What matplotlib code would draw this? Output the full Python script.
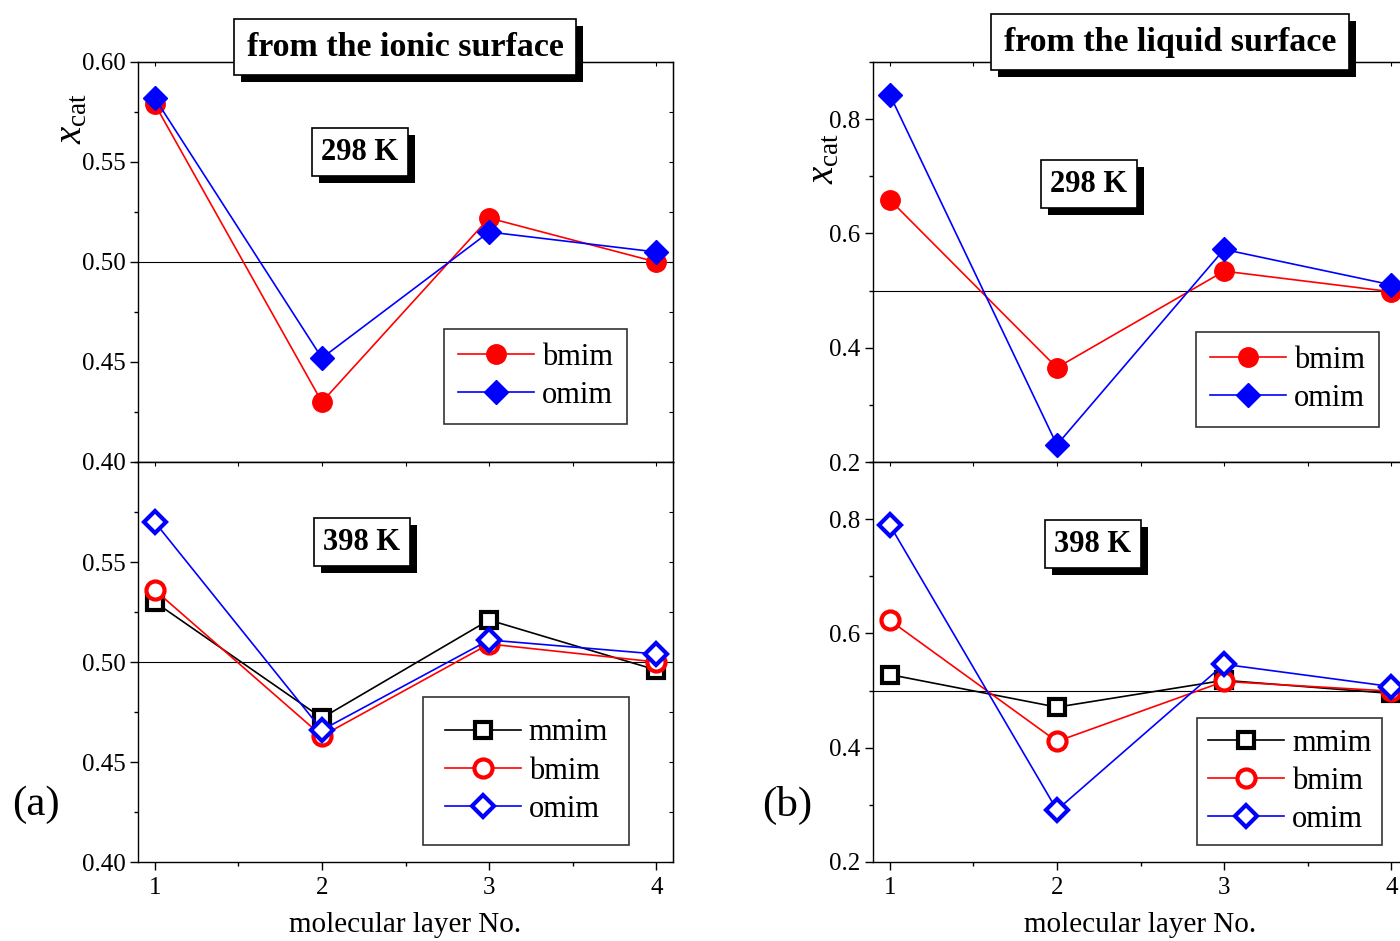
import matplotlib
matplotlib.use("Agg")
import matplotlib.pyplot as plt
from matplotlib import patheffects
from matplotlib.ticker import MultipleLocator

plt.rcParams['font.family'] = ['Liberation Serif', 'DejaVu Serif']
plt.rcParams['mathtext.fontset'] = 'custom'
plt.rcParams['mathtext.rm'] = 'Liberation Serif'
plt.rcParams['mathtext.it'] = 'Liberation Serif:italic'

layers = [1, 2, 3, 4]

# (a) from the ionic surface
a298_bmim = [0.579, 0.430, 0.522, 0.500]
a298_omim = [0.582, 0.452, 0.515, 0.505]
a398_mmim = [0.530, 0.472, 0.521, 0.496]
a398_bmim = [0.536, 0.463, 0.509, 0.500]
a398_omim = [0.570, 0.466, 0.511, 0.504]

# (b) from the liquid surface
b298_bmim = [0.659, 0.365, 0.534, 0.498]
b298_omim = [0.843, 0.230, 0.572, 0.510]
b398_mmim = [0.528, 0.471, 0.518, 0.495]
b398_bmim = [0.623, 0.411, 0.516, 0.499]
b398_omim = [0.790, 0.291, 0.546, 0.507]

fig = plt.figure(figsize=(14, 9.41), dpi=100)

def fx(px):
    return px / 1400.0

def fy(py):
    return 1 - py / 941.0

def style_axes(ax, ylim, ymajor, yminor, xlabels):
    ax.set_xlim(0.9, 4.1)
    ax.set_ylim(*ylim)
    ax.xaxis.set_major_locator(MultipleLocator(1))
    ax.xaxis.set_minor_locator(MultipleLocator(0.5))
    ax.yaxis.set_major_locator(MultipleLocator(ymajor))
    ax.yaxis.set_minor_locator(MultipleLocator(yminor))
    ax.tick_params(which='major', direction='out', length=6, width=1, labelsize=18,
                   top=False, right=False, pad=3)
    ax.tick_params(which='minor', direction='out', length=3, width=1,
                   top=False, right=False)
    ax.tick_params(axis='x', labelbottom=xlabels, pad=5)
    for s in ax.spines.values():
        s.set_linewidth(1.0)
    ax.axhline(0.5, color='k', lw=0.8, zorder=1)
    sec = ax.secondary_xaxis('top')
    sec.tick_params(which='both', direction='in', length=3, labeltop=False)
    sec.xaxis.set_minor_locator(MultipleLocator(0.5))
    sec2 = ax.secondary_yaxis('right')
    sec2.tick_params(which='both', direction='in', length=3, labelright=False)
    sec2.yaxis.set_minor_locator(MultipleLocator(yminor))

def boxed(x, y, s, size, pad):
    t = fig.text(fx(x), fy(y), s, fontsize=size, fontweight='bold',
                 ha='center', va='center', zorder=10,
                 bbox=dict(boxstyle='square,pad=%s' % pad, fc='white', ec='k', lw=1.2))
    t.get_bbox_patch().set_path_effects([
        patheffects.withSimplePatchShadow(offset=(5, -5), shadow_rgbFace='k', alpha=1.0)])
    return t

def add_legend(ax, anchor, bpad):
    leg = ax.legend(loc='upper left', bbox_to_anchor=anchor, borderaxespad=0,
                    fontsize=22, frameon=True, fancybox=False, edgecolor='k',
                    handlelength=2.5, handletextpad=0.25, borderpad=bpad,
                    labelspacing=0.3)
    leg.get_frame().set_linewidth(1.2)

def top_panel(left, bmim, omim, ylim, ymajor, yminor, anchor, ylab_pos):
    ax = fig.add_axes([fx(left), fy(462), fx(535), 400 / 941.0])
    style_axes(ax, ylim, ymajor, yminor, False)
    ax.plot(layers, bmim, '-o', color='red', lw=1.2, ms=14, label='bmim', zorder=3)
    ax.plot(layers, omim, '-D', color='blue', lw=1.2, ms=12, label='omim', zorder=4)
    ax.set_ylabel(r'$x_{\rm cat}$', fontsize=28)
    ax.yaxis.set_label_coords(*ylab_pos)
    add_legend(ax, anchor, 0.45)
    return ax

def bottom_panel(left, mmim, bmim, omim, ylim, ymajor, yminor, anchor, bpad):
    ax = fig.add_axes([fx(left), fy(862), fx(535), 400 / 941.0])
    style_axes(ax, ylim, ymajor, yminor, True)
    ax.plot(layers, mmim, '-s', color='black', mfc='white', mew=3, lw=1.2, ms=11,
            label='mmim', zorder=3)
    ax.plot(layers, bmim, '-o', color='red', mfc='white', mew=3, lw=1.2, ms=13,
            label='bmim', zorder=4)
    ax.plot(layers, omim, '-D', color='blue', mfc='white', mew=3, lw=1.2, ms=11,
            label='omim', zorder=5)
    ax.set_xlabel('molecular layer No.', fontsize=21, labelpad=9)
    add_legend(ax, anchor, bpad)
    return ax

# panel (a)
axa1 = top_panel(138, a298_bmim, a298_omim, (0.40, 0.60), 0.05, 0.025,
                 (0.572, 0.3325), (-0.09, 0.86))
axa2 = bottom_panel(138, a398_mmim, a398_bmim, a398_omim, (0.40, 0.60), 0.05, 0.025,
                    (0.533, 0.4125), 0.7)
axa2.set_yticks([0.40, 0.45, 0.50, 0.55])

# panel (b)
axb1 = top_panel(873, b298_bmim, b298_omim, (0.2, 0.9), 0.2, 0.1,
                 (0.604, 0.325), (-0.058, 0.76))
axb2 = bottom_panel(873, b398_mmim, b398_bmim, b398_omim, (0.2, 0.9), 0.2, 0.1,
                    (0.606, 0.36), 0.35)
axb2.set_yticks([0.2, 0.4, 0.6, 0.8])

boxed(405, 47, 'from the ionic surface', 24.5, 0.38)
boxed(360, 152, '298 K', 22, 0.3)
boxed(362, 542, '398 K', 22, 0.3)
boxed(1170, 42, 'from the liquid surface', 24.5, 0.38)
boxed(1089, 184, '298 K', 22, 0.3)
boxed(1093, 544, '398 K', 22, 0.3)

fig.text(fx(36), fy(805), '(a)', fontsize=31, ha='center', va='center')
fig.text(fx(787), fy(805), '(b)', fontsize=31, ha='center', va='center')

fig.savefig('out.png', dpi=100)
